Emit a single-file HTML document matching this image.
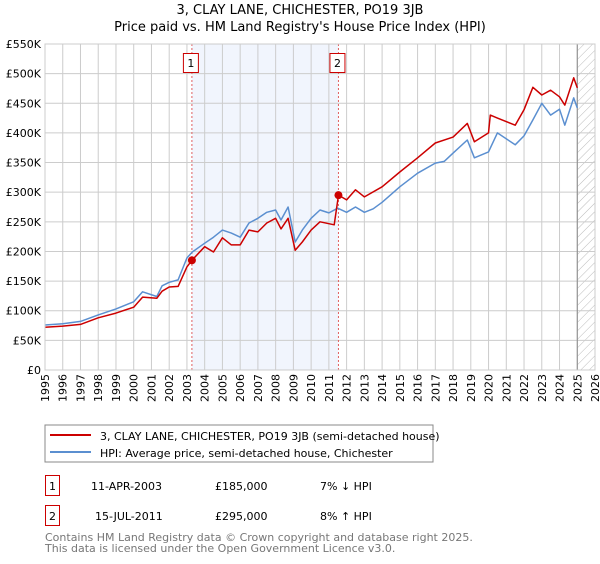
<!DOCTYPE html>
<html><head><meta charset="utf-8"><style>
body{margin:0;background:#fff;font-family:"DejaVu Sans","Liberation Sans",sans-serif;}
svg text{font-family:"DejaVu Sans","Liberation Sans",sans-serif;}
</style></head><body>
<svg id="chart" width="600" height="560" viewBox="0 0 600 560">
<defs><pattern id="hatch" width="6" height="6" patternUnits="userSpaceOnUse" patternTransform="rotate(45)"><line x1="0" y1="0" x2="0" y2="6" stroke="#bbb" stroke-width="1"/></pattern></defs>
<text x="300" y="14" text-anchor="middle" font-size="13">3, CLAY LANE, CHICHESTER, PO19 3JB</text>
<text x="300" y="31" text-anchor="middle" font-size="13">Price paid vs. HM Land Registry's House Price Index (HPI)</text>
<g id="grid"></g><g id="marks"></g><g id="axes"></g>
<rect x="45" y="425" width="388" height="37" fill="#fff" stroke="#888"/>
<line x1="50" y1="435" x2="91" y2="435" stroke="#cc0000" stroke-width="2"/>
<text x="100" y="440" font-size="11">3, CLAY LANE, CHICHESTER, PO19 3JB (semi-detached house)</text>
<line x1="50" y1="452" x2="91" y2="452" stroke="#5b8fd0" stroke-width="2"/>
<text x="100" y="457" font-size="11">HPI: Average price, semi-detached house, Chichester</text>
<g>
<rect x="45.5" y="475.5" width="14" height="20" fill="none" stroke="#cc0000"/>
<text x="52.5" y="490" font-size="11" text-anchor="middle">1</text>
<text x="91" y="490" font-size="11">11-APR-2003</text>
<text x="215" y="490" font-size="11">£185,000</text>
<text x="320" y="490" font-size="11">7% ↓ HPI</text></g>
<g>
<rect x="45.5" y="505.5" width="14" height="20" fill="none" stroke="#cc0000"/>
<text x="52.5" y="520" font-size="11" text-anchor="middle">2</text>
<text x="95" y="520" font-size="11">15-JUL-2011</text>
<text x="215" y="520" font-size="11">£295,000</text>
<text x="320" y="520" font-size="11">8% ↑ HPI</text></g>
<text x="45" y="541" font-size="11" fill="#777">Contains HM Land Registry data © Crown copyright and database right 2025.</text>
<text x="45" y="552" font-size="11" fill="#777">This data is licensed under the Open Government Licence v3.0.</text>
</svg>
<script>
const yearTicks=[1995,1996,1997,1998,1999,2000,2001,2002,2003,2004,2005,2006,2007,2008,2009,2010,2011,2012,2013,2014,2015,2016,2017,2018,2019,2020,2021,2022,2023,2024,2025,2026];
const valueTicks=[0,50,100,150,200,250,300,350,400,450,500,550];
const valueLabels=["£0","£50K","£100K","£150K","£200K","£250K","£300K","£350K","£400K","£450K","£500K","£550K"];
const hpiDates=[1995,1996,1997,1998,1999,2000,2000.5,2001.3,2001.6,2002,2002.5,2003,2003.3,2004,2004.5,2005,2005.5,2006,2006.5,2007,2007.5,2008,2008.3,2008.7,2009.1,2009.5,2010,2010.5,2011,2011.5,2012,2012.5,2013,2013.5,2014,2015,2016,2017,2017.5,2018,2018.8,2019.2,2020,2020.5,2021.5,2022,2022.5,2023,2023.5,2024,2024.3,2024.8,2025.0];
const hpiValues=[76,78,82,93,103,115,132,124,142,148,152,189,199,214,224,236,231,224,248,256,266,270,253,275,216,236,256,270,265,273,266,275,266,272,283,309,332,349,352,366,388,358,368,400,380,395,422,450,430,440,413,459,442];
const priceDates=[1995,1996,1997,1998,1999,2000,2000.5,2001.3,2001.6,2002,2002.5,2003,2003.28,2004,2004.5,2005,2005.5,2006,2006.5,2007,2007.5,2008,2008.3,2008.7,2009.1,2009.5,2010,2010.5,2011.3,2011.54,2012,2012.5,2013,2014,2015,2016,2017,2018,2018.8,2019.2,2020,2020.1,2020.5,2021.5,2022,2022.5,2023,2023.5,2024,2024.3,2024.8,2025.0];
const priceValues=[72,74,77,88,96,106,123,121,133,140,141,174,185,208,199,223,211,211,236,233,248,256,238,256,202,216,236,250,245,295,287,304,292,309,334,358,383,393,416,385,400,430,425,413,439,477,464,472,461,447,493,476];
const saleDates=[2003.28,2011.54];
const saleValues=[185,295];
const saleLabels=["1","2"];
const NS="http://www.w3.org/2000/svg";
const X0=45,X1=595,Y0=370,Y1=44;
function xs(d){return X0+(d-1995)/(2026-1995)*(X1-X0);}
function ys(v){return Y0-v/550*(Y0-Y1);}
function mk(tag,attrs,parent){const e=document.createElementNS(NS,tag);for(const k in attrs)e.setAttribute(k,attrs[k]);parent.appendChild(e);return e;}
const grid=document.getElementById('grid'),marks=document.getElementById('marks'),axes=document.getElementById('axes');
let sh=mk('rect',{x:xs(saleDates[0]),y:Y1,width:xs(saleDates[1])-xs(saleDates[0]),height:Y0-Y1,fill:'#eef2fc',opacity:0.8},grid);


let ht=mk('rect',{x:xs(2025),y:Y1,width:X1-xs(2025),height:Y0-Y1,fill:'url(#hatch)'},grid);


yearTicks.forEach(t=>{const l=mk('line',{x1:xs(t),x2:xs(t),y1:Y1,y2:Y0,stroke:'#ccc'},grid);


const tx=mk('text',{x:0,y:0,'font-size':11,'text-anchor':'end',transform:`translate(${xs(t)+4},${Y0+4}) rotate(-90)`},axes);
tx.textContent=t;

});
valueTicks.forEach((t,i)=>{const l=mk('line',{x1:X0,x2:X1,y1:ys(t),y2:ys(t),stroke:'#ccc'},grid);


const tx=mk('text',{x:X0-4,y:ys(t)+4,'font-size':11,'text-anchor':'end'},axes);
tx.textContent=valueLabels[i];

});
let vl=mk('line',{x1:xs(2025),x2:xs(2025),y1:Y1,y2:Y0,stroke:'#888'},grid);


saleDates.forEach((d,i)=>{const l=mk('line',{x1:xs(d),x2:xs(d),y1:Y1,y2:Y0,stroke:'#e06060','stroke-dasharray':'2,2'},grid);


const b=mk('rect',{x:xs(d)-8.5,y:53.5,width:15,height:19,fill:'#fff',stroke:'#cc0000'},axes);


const tx=mk('text',{x:xs(d)-1,y:67,'font-size':11,'text-anchor':'middle'},axes);
tx.textContent=saleLabels[i];

});
function line(ds,vs,c,name){const p=mk('polyline',{points:ds.map((d,i)=>xs(d).toFixed(1)+','+ys(vs[i]).toFixed(1)).join(' '),fill:'none',stroke:c,'stroke-width':1.5,'stroke-linejoin':'round'},marks);

}
line(hpiDates,hpiValues,'#5b8fd0','hpi-line');
line(priceDates,priceValues,'#cc0000','price-line');
saleDates.forEach((d,i)=>{const c=mk('circle',{cx:xs(d),cy:ys(saleValues[i]),r:4,fill:'#cc0000'},marks);

});
let fr=mk('rect',{x:X0,y:Y1,width:X1-X0,height:Y0-Y1,fill:'none',stroke:'#ccc'},axes);


</script>
</body></html>
